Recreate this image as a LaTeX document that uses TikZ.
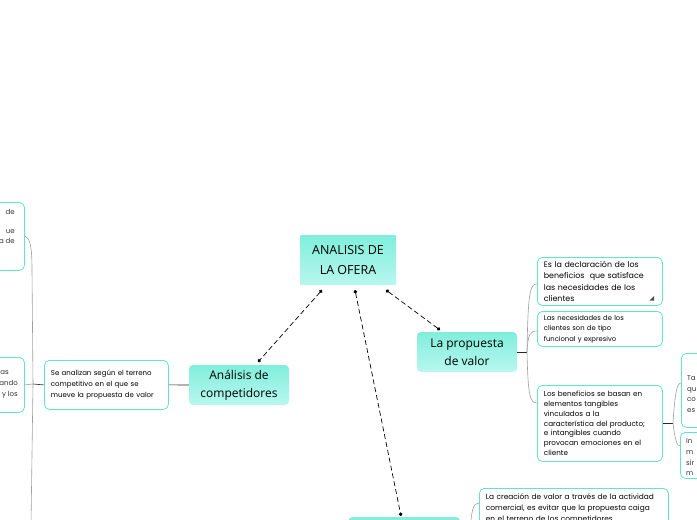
\documentclass[tikz,border=0pt]{standalone}
\usepackage{fontspec}
\setmainfont{Open Sans}
\newfontfamily\smallf{Poppins}
\usetikzlibrary{arrows.meta}
\definecolor{turq}{HTML}{80EEDC}
\definecolor{turql}{HTML}{B8F7EE}
\definecolor{bord}{HTML}{62E3CC}
\begin{document}
\begin{tikzpicture}[x=1pt,y=-1pt,
 mainbox/.style={rounded corners=4pt, top color=turq, bottom color=turql, draw=none, align=center,
   font=\fontsize{12}{18}\selectfont, inner sep=0},
 leaf/.style={rounded corners=5pt, draw=bord, line width=0.8pt, fill=white, align=left, inner xsep=6.5pt, inner ysep=0pt, anchor=north west},
 frag/.style={font=\smallf\fontsize{7}{10}\selectfont, inner sep=0, text=black!80},
 dashc/.style={dash pattern=on 5pt off 3pt, line width=0.7pt, {Circle[length=3.5pt]}-{Circle[length=3.5pt]}},
 br/.style={draw=gray!75, line width=0.6pt},
 dk/.style={draw=black!85, line width=0.6pt},
 ]
\useasboundingbox (0,0) rectangle (697,520);
\clip (0,0) rectangle (697,520);

% main nodes
\node[mainbox, rounded corners=1pt, minimum width=96, minimum height=50, font=\fontsize{12.5}{20}\selectfont] (root) at (348,260) {ANALISIS DE\\LA OFERA};
\node[mainbox, minimum width=100, minimum height=40] (comp) at (239,385) {Análisis de\\competidores};
\node[mainbox, minimum width=100, minimum height=40] (prop) at (467,352) {La propuesta\\de valor};
\node[mainbox, minimum width=112, minimum height=40, anchor=north west] (bot) at (348,517) {};

% dashed connectors
\coordinate (r1) at (322,290);
\coordinate (r2) at (355,290);
\coordinate (r3) at (386,290);
\coordinate (c1) at (258,362);
\coordinate (p1) at (440,330);
\coordinate (b1) at (401,516);
\draw[dashc] (r1) -- (c1);
\draw[dashc] (r2) -- (b1);
\draw[dashc] (r3) -- (p1);

% left leaves
\node[leaf, text width=111, minimum height=49, font=\smallf\fontsize{7}{11}\selectfont] (sa) at (44,360)
  {Se analizan según el terreno\\competitivo en el que se\\mueve la propuesta de valor};
\node[leaf, minimum width=50, minimum height=68] (lt) at (-26,202) {};
\node[leaf, minimum width=50, minimum height=55] (lm) at (-26,357) {};
\node[frag, anchor=base east] (lt1) at (15,214.5) {de};
\node[frag, anchor=base east] (lt2) at (15,233.5) {ue};
\node[frag, anchor=base east] (lt3) at (15,243.5) {a de};
\node[frag, anchor=base east] (lm1) at (9,374.5) {as};
\node[frag, anchor=base east] (lm2) at (18,385.5) {ando};
\node[frag, anchor=base east] (lm3) at (18,396.5) {y los};

\coordinate (lj) at (33,384);
\draw[dk] (comp.west) -- (sa.east);
\draw[dk] (sa.west) -- (lj);
\draw[br] (lm.east) -- (lj);
\draw[br] (lt.east |- 0,236) .. controls (30,238) and (32,246) .. (32,270) -- (lj) -- (31,525);

% right leaves
\node[leaf, text width=112, minimum height=48, font=\smallf\fontsize{7.9}{11.3}\selectfont] (e1) at (537,257)
  {Es la declaración de los\\beneficios\ \ que satisface\\las necesidades de los\\clientes};
\fill[black!70] (654,296) -- (654,300.5) -- (649.5,300.5) -- cycle;
\node[leaf, text width=112, minimum height=35, font=\smallf\fontsize{6.8}{10.5}\selectfont] (e2) at (537,311)
  {Las necesidades de los\\clientes son de tipo\\funcional y expresivo};
\node[leaf, text width=112, minimum height=76, font=\smallf\fontsize{7.2}{9.8}\selectfont] (e3) at (537,385)
  {Los beneficios se basan en\\elementos tangibles\\vinculados a la\\característica del producto;\\e intangibles cuando\\provocan emociones en el\\cliente};

\coordinate (pj) at (527,352);
\draw[dk] (prop.east) -- (pj);
\draw[br] (pj) .. controls (528,292) and (530,284) .. (e1.west |- 0,284);
\draw[br] (pj) .. controls (528,334) and (530,331) .. (e2.west |- 0,331);
\draw[br] (pj) .. controls (528,396) and (530,403) .. (e3.west |- 0,403);

\node[leaf, minimum width=50, minimum height=74] (f1) at (681,353) {};
\node[leaf, minimum width=50, minimum height=46] (f2) at (680,432) {};
\node[frag, anchor=base west] (f11) at (687,380.5) {Ta};
\node[frag, anchor=base west] (f12) at (687,391.5) {qu};
\node[frag, anchor=base west] (f13) at (687,401.5) {co};
\node[frag, anchor=base west] (f14) at (687,412.5) {es};
\node[frag, anchor=base west] (f21) at (686,443.5) {In};
\node[frag, anchor=base west] (f22) at (686,454.5) {m};
\node[frag, anchor=base west] (f23) at (686,465.5) {sir};
\node[frag, anchor=base west] (f24) at (686,475.5) {m};

\coordinate (ej) at (673,423);
\draw[dk] (e3.east |- 0,423) -- (ej);
\draw[br] (ej) .. controls (675,392) and (677,383) .. (f1.west |- 0,383);
\draw[br] (ej) .. controls (675,440) and (677,446) .. (f2.west |- 0,446);

% bottom leaf
\node[leaf, text width=176, inner ysep=5pt, font=\smallf\fontsize{7.4}{11}\selectfont] (g1) at (479,488)
  {La creación de valor a través de la actividad\\comercial, es evitar que la propuesta caiga\\en el terreno de los competidores};
\coordinate (gj) at (470,537);
\draw[dk] (bot.east |- 0,537) -- (gj);
\draw[br] (gj) .. controls (471,510) and (473,503) .. (g1.west |- 0,503);
\end{tikzpicture}
\end{document}
